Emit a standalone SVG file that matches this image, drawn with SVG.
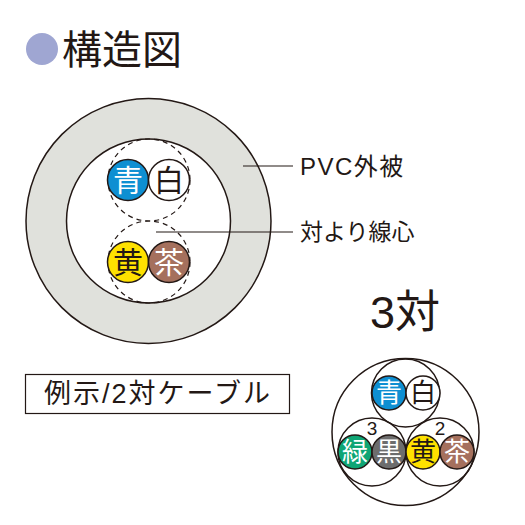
<svg xmlns="http://www.w3.org/2000/svg" width="525" height="525" viewBox="0 0 525 525">
<style>
text{font-family:"Liberation Sans","Noto Sans CJK JP",sans-serif;fill:#231815}
.c{text-anchor:middle}
.w{fill:#fff}
.o{fill:none;stroke:#231815;stroke-width:1.5}
.d{fill:none;stroke:#231815;stroke-width:1.2;stroke-dasharray:5 4}
.k{stroke:#231815;stroke-width:1.5}
.big{font-size:30px}
.sm{font-size:26px}
</style>
<rect width="525" height="525" fill="#fff"/>
<g id="title"><circle cx="42" cy="49" r="16" fill="#9fa6d2"/><text x="62" y="64" font-size="40">構造図</text></g>
<g id="cable-2pair">
<circle cx="148.500" cy="221" r="122.500" fill="#e0e1dc" stroke="#231815" stroke-width="1.500"/>
<circle cx="148.500" cy="221" r="82" fill="#fff" stroke="#231815" stroke-width="1.500"/>
<circle class="d" cx="149" cy="180" r="41"/><circle class="d" cx="149" cy="262" r="41"/>
</g>
<g id="core-blue"><circle class="k" cx="128" cy="180" r="20.500" fill="#0e8fd2"/><text class="c big w" x="128" y="191">青</text></g>
<g id="core-white"><circle class="k" cx="169" cy="180" r="20.500" fill="#fff"/><text class="c big" x="169" y="191">白</text></g>
<g id="core-yellow"><circle class="k" cx="128" cy="262" r="20.500" fill="#ffe100"/><text class="c big" x="128" y="273">黄</text></g>
<g id="core-brown"><circle class="k" cx="169" cy="262" r="20.500" fill="#a5705d"/><text class="c big w" x="169" y="273">茶</text></g>
<g id="connectors" stroke="#231815" stroke-width="1.200"><line x1="243" y1="166" x2="293" y2="166"/><line x1="156" y1="232" x2="293" y2="232"/></g>
<g id="label-pvc"><text x="300" y="175" font-size="24" letter-spacing="1.500">PVC外被</text></g>
<g id="label-twist"><text x="300" y="240" font-size="23">対より線心</text></g>
<g id="label-3pair"><text x="370" y="328" font-size="45">3対</text></g>
<g id="example"><rect x="25.500" y="374.500" width="264" height="39" fill="#fff" stroke="#231815" stroke-width="1.200"/><text x="44" y="403" font-size="27" letter-spacing="2">例示/2対ケーブル</text></g>
<g id="cable-3pair">
<circle class="o" cx="405.500" cy="432" r="73.500"/>
<circle class="o" cx="405.500" cy="393" r="34"/>
<circle class="o" cx="372" cy="452" r="34"/>
<circle class="o" cx="440" cy="452" r="34"/>
<text class="c" x="372" y="435" font-size="19">3</text>
<text class="c" x="440" y="435" font-size="19">2</text>
</g>
<g id="small-blue"><circle class="k" cx="389" cy="393" r="17" fill="#0e8fd2"/><text class="c sm w" x="389" y="402">青</text></g>
<g id="small-white"><circle class="k" cx="423" cy="393" r="17" fill="#fff"/><text class="c sm" x="423" y="402">白</text></g>
<g id="small-green"><circle class="k" cx="355" cy="452" r="17" fill="#0fa574"/><text class="c sm w" x="355" y="461">緑</text></g>
<g id="small-black"><circle class="k" cx="389" cy="452" r="17" fill="#6d6d6d"/><text class="c sm w" x="389" y="461">黒</text></g>
<g id="small-yellow"><circle class="k" cx="423" cy="452" r="17" fill="#ffe100"/><text class="c sm" x="423" y="461">黄</text></g>
<g id="small-brown"><circle class="k" cx="457" cy="452" r="17" fill="#a5705d"/><text class="c sm w" x="457" y="461">茶</text></g>
</svg>
